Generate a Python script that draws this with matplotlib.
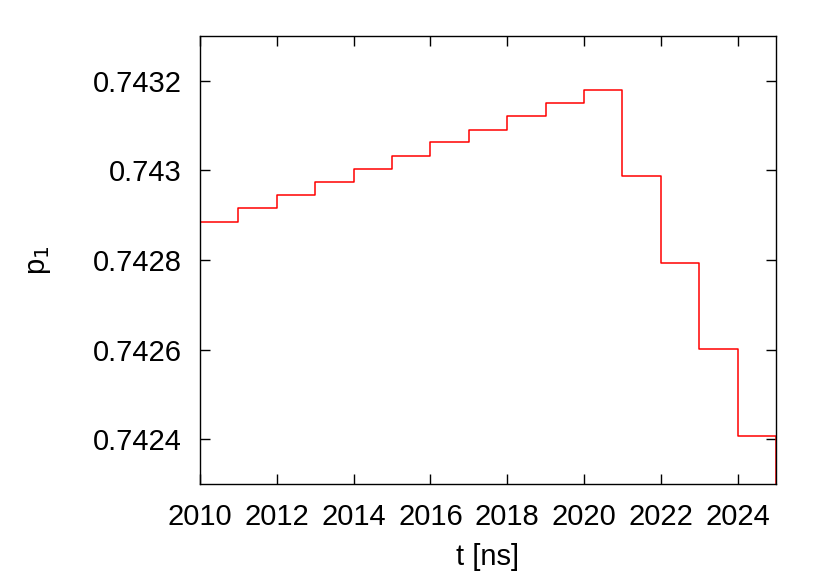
import matplotlib
matplotlib.use("Agg")
import matplotlib.pyplot as plt

t_edges = [2010, 2011, 2012, 2013, 2014, 2015, 2016, 2017, 2018, 2019, 2020,
           2021, 2022, 2023, 2024, 2025, 2026]
p1 = [0.742885, 0.742916, 0.742945, 0.742974, 0.743004, 0.743033, 0.743063,
      0.743091, 0.743121, 0.743151, 0.743180, 0.742987, 0.742794, 0.742602,
      0.742408, 0.742215]

xticks = [2010, 2012, 2014, 2016, 2018, 2020, 2022, 2024]
yticks = [0.7424, 0.7426, 0.7428, 0.7430, 0.7432]
ytick_labels = ["0.7424", "0.7426", "0.7428", "0.743", "0.7432"]

plt.rcParams['font.family'] = ['Liberation Sans', 'DejaVu Sans']

fig = plt.figure(figsize=(8.3, 5.81), dpi=100)
ax = fig.add_axes([200/830, 1-484/581, 576/830, 448/581])

ax.step(t_edges[:-1], p1, where='post', color='#ff0000', lw=1.1)

ax.set_xlim(2010, 2025)
ax.set_ylim(0.7423, 0.7433)
ax.set_xticks(xticks)
ax.set_yticks(yticks)
ax.set_yticklabels(ytick_labels)
ax.tick_params(direction='in', top=True, right=True, length=7, width=1,
               labelsize=21, pad=13)
ax.tick_params(axis='x', pad=14)
for s in ax.spines.values():
    s.set_linewidth(1)

ax.set_xlabel("t [ns]", fontsize=21, labelpad=8)
ax.set_ylabel("p$_1$", fontsize=21, labelpad=29)

fig.savefig("out.png", dpi=100)
